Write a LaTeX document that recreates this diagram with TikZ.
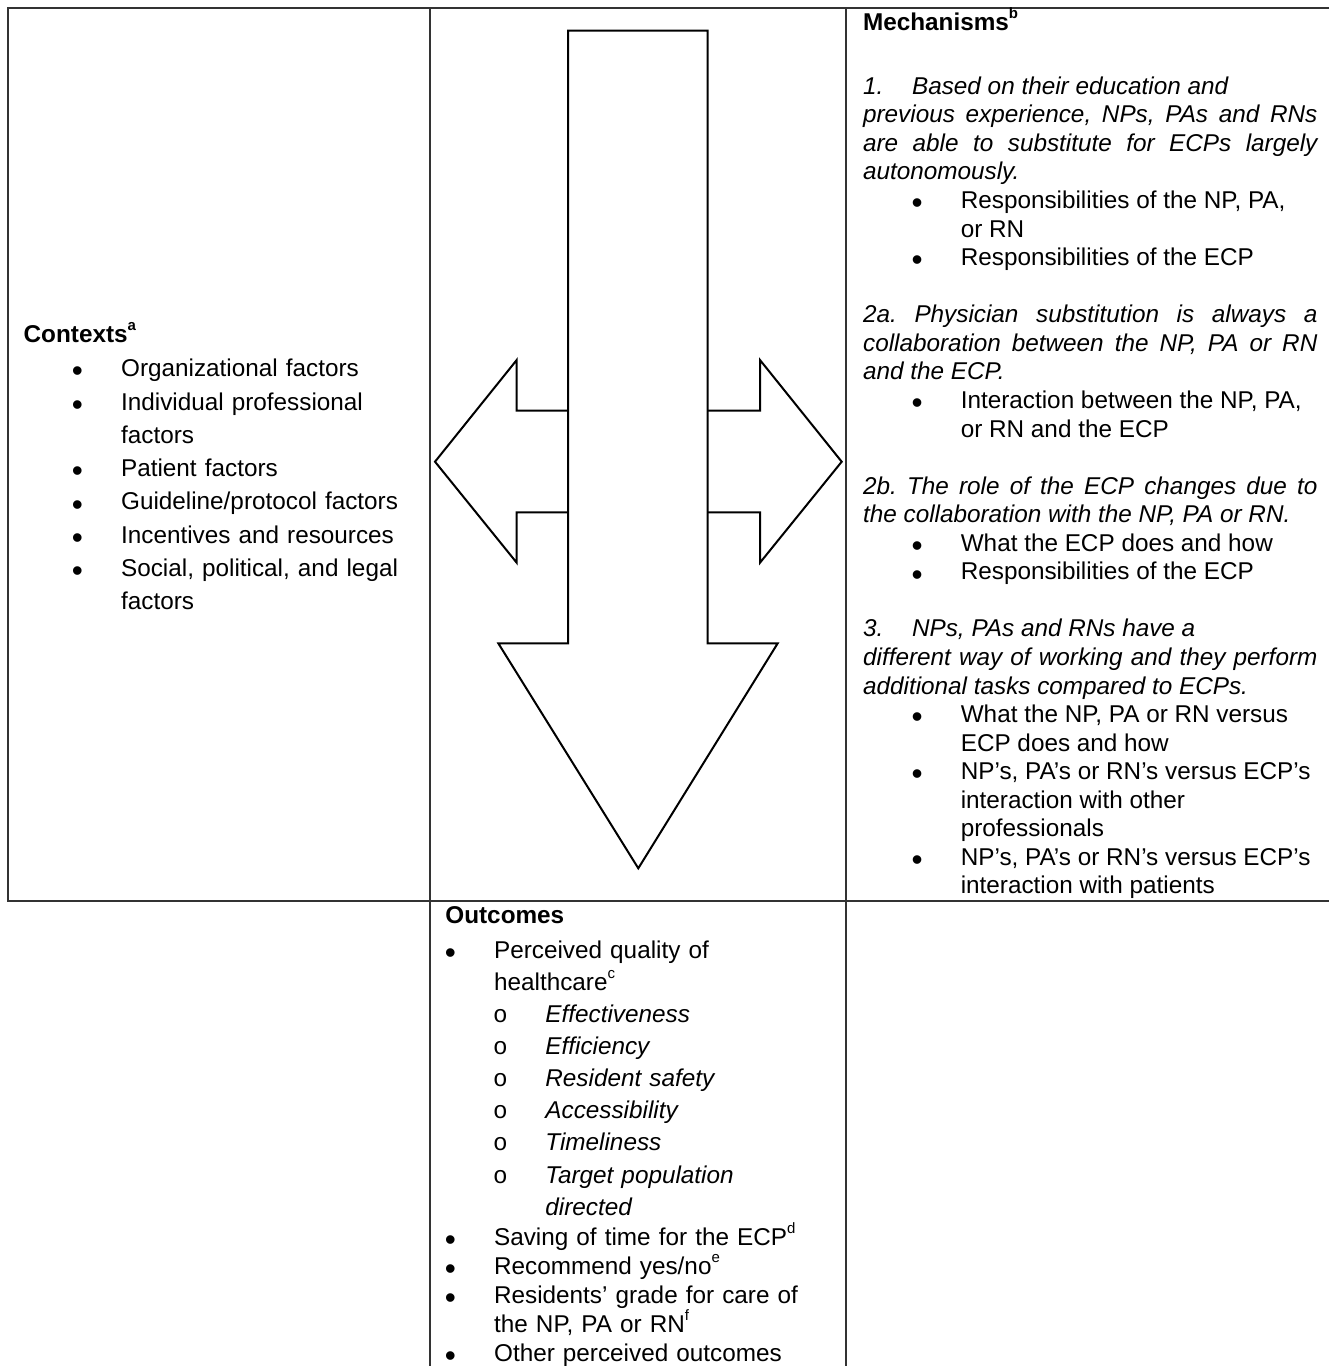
\documentclass[tikz,border=0pt]{standalone}
\usepackage{fontspec}
\setmainfont{Liberation Sans}
\newfontfamily\circfont{Liberation Mono}

% bullet glyph, a bit larger and lowered
\newcommand{\bigbul}{\raisebox{-2.6pt}{\fontsize{15.8}{15.8}\selectfont\textbullet}}
% small footnote letter
\newcommand{\fnmark}[1]{\smash{\raisebox{0.48em}{\fontsize{7.5}{7.5}\selectfont #1}}}
% bullet line: [offset]{text}
\newcommand{\itembul}[2][0pt]{\noindent\hangindent=\dimexpr#1+21.85pt\relax\hangafter=1
  \hspace*{#1}\makebox[21.85pt][l]{\makebox[0pt]{\bigbul}}#2\par}
% sub bullet (circle)
\newcommand{\itemsub}[1]{\noindent\hangindent=47.5pt\hangafter=1
  \hspace*{25pt}\makebox[22.5pt][l]{\makebox[0pt]{\circfont o}}\textit{#1}\par}
\newcommand{\gapline}{\par\vspace{\baselineskip}}

\begin{document}
\begin{tikzpicture}[x=0.5pt,y=-0.5pt,
  font=\fontsize{12.15}{14.28}\selectfont\frenchspacing,
  tableline/.style={line width=1pt,draw=black!80},
  arrowline/.style={line width=1pt,draw=black,line join=miter},
  txt/.style={inner sep=0pt,anchor=base west,align=left}]
\useasboundingbox (0,0) rectangle (1329,1366);

% table
\draw[tableline] (1329,8) -- (8,8) -- (8,901) -- (1329,901);
\draw[tableline] (430,8) -- (430,1366);
\draw[tableline] (846,8) -- (846,1366);

% big arrow down
\draw[arrowline] (568,30.7) -- (707.5,30.7) -- (707.5,643.3) -- (777.7,643.3)
  -- (638.3,868.3) -- (498.3,643.3) -- (568,643.3) -- cycle;
% left arrow
\draw[arrowline] (568,410.7) -- (516.7,410.7) -- (516.7,360) -- (435,461.7)
  -- (516.7,562.7) -- (516.7,512.3) -- (568,512.3);
% right arrow
\draw[arrowline] (707.5,410.7) -- (760,410.7) -- (760,360) -- (841.7,461.7)
  -- (760,562.7) -- (760,512.3) -- (707.5,512.3);

% contexts
\node[txt] (ctxhead) at (23.3,342) {\textbf{Contexts\fnmark{a}}};
\node[txt,text width=171pt,font=\fontsize{12.15}{16.65}\selectfont] (ctxlist) at (77,376.7) {%
  \itembul{Organizational factors}
  \itembul{Individual professional\newline factors}
  \itembul{Patient factors}
  \itembul{Guideline/protocol factors}
  \itembul{Incentives and resources}
  \itembul{Social, political, and legal\newline factors}};

% mechanisms
\node[txt] (mechhead) at (862.7,30) {\textbf{Mechanisms\fnmark{b}}};
\node[txt,align=justify,text width=227.15pt] (mechlist) at (862.7,94.3) {%
  {\itshape\noindent\makebox[24.5pt][l]{1.}Based on their education and\newline
  previous experience, NPs, PAs and RNs\linebreak
  are able to substitute for ECPs largely\linebreak
  autonomously.\par}
  \itembul[27pt]{Responsibilities of the NP, PA,\newline or RN}
  \itembul[27pt]{Responsibilities of the ECP}
  \gapline
  {\itshape\noindent 2a. Physician substitution is always a\linebreak
  collaboration between the NP, PA or RN\linebreak
  and the ECP.\par}
  \itembul[27pt]{Interaction between the NP, PA,\newline or RN and the ECP}
  \gapline
  {\itshape\noindent 2b. The role of the ECP changes due to\linebreak
  the collaboration with the NP, PA or RN.\par}
  \itembul[27pt]{What the ECP does and how}
  \itembul[27pt]{Responsibilities of the ECP}
  \gapline
  {\itshape\noindent\makebox[24.5pt][l]{3.}NPs, PAs and RNs have a\newline
  different way of working and they perform\linebreak
  additional tasks compared to ECPs.\par}
  \itembul[27pt]{What the NP, PA or RN versus\newline ECP does and how}
  \itembul[27pt]{NP’s, PA’s or RN’s versus ECP’s\newline interaction with other\newline professionals}
  \itembul[27pt]{NP’s, PA’s or RN’s versus ECP’s\newline interaction with patients}};

% outcomes
\node[txt] (outhead) at (445,923.3) {\textbf{Outcomes}};
\node[txt,text width=185pt,font=\fontsize{12.15}{16.05}\selectfont] (outlistA) at (450,958.3) {%
  \itembul{Perceived quality of\newline healthcare\fnmark{c}}
  \itemsub{Effectiveness}
  \itemsub{Efficiency}
  \itemsub{Resident safety}
  \itemsub{Accessibility}
  \itemsub{Timeliness}
  \itemsub{Target population\newline directed}};
\node[txt,text width=185pt,font=\fontsize{12.15}{14.5}\selectfont] (outlistB) at (450,1245) {%
  \itembul{Saving of time for the ECP\fnmark{d}}
  \itembul{Recommend yes/no\fnmark{e}}
  \itembul{Residents’ grade for care of\newline the NP, PA or RN\fnmark{f}}
  \itembul{Other perceived outcomes}};

\end{tikzpicture}
\end{document}
